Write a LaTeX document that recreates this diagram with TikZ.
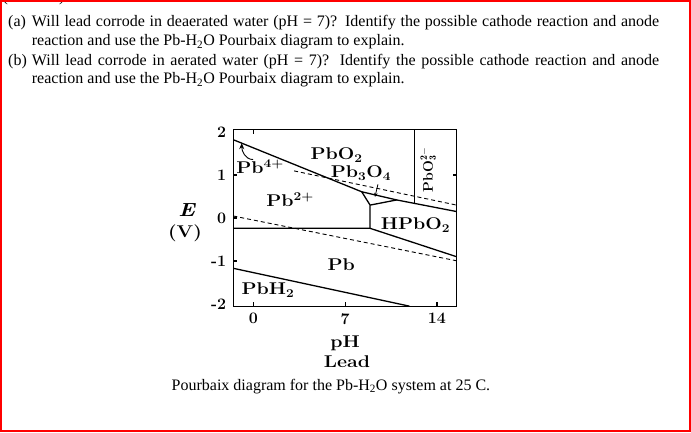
\documentclass[tikz,border=0pt]{standalone}
\usepackage{fontspec}
\newfontfamily\timesfont{Liberation Serif}
\usetikzlibrary{arrows.meta,positioning}
\newcommand\wide[1]{\scalebox{1.15}[1]{#1}}
\newcommand\qitem[2]{\makebox[23.7pt][l]{\strut#1}\parbox[t]{627.3pt}{\strut#2}}
\tikzset{
	region/.style={font=\fontsize{17}{17}\selectfont\bfseries, inner sep=0pt},
	ticklbl/.style={font=\fontsize{16}{16}\selectfont\bfseries, inner sep=0pt},
	question/.style={font=\fontsize{16}{18.6}\selectfont\timesfont, inner sep=0pt, anchor=north west},
	phase/.style={line width=1.3pt},
	water/.style={line width=0.9pt, dash pattern=on 4pt off 3pt},
}

\begin{document}
\begin{tikzpicture}[x=1pt, y=1pt]
		%%%%% START %%%%%
		\useasboundingbox (0,0) rectangle (691,432);
		\clip (0,0) rectangle (691,432);
		
		\node[font=\fontsize{16}{18}\selectfont\timesfont, inner sep=0pt, anchor=base west] (marks) at (2.5,430.5) {(5 marks)};
		
		\node[question] (qa) at (8,418.3) {\qitem{(a)}{Will lead corrode in deaerated water (pH = 7)? Identify the possible cathode reaction and anode\linebreak reaction and use the Pb-H\textsubscript{2}O Pourbaix diagram to explain.}};
		\node[question] (qb) at (8,380) {\qitem{(b)}{Will lead corrode in aerated water (pH = 7)? Identify the possible cathode reaction and anode\linebreak reaction and use the Pb-H\textsubscript{2}O Pourbaix diagram to explain.}};
		
		\begin{scope}[shift={(253.5pt,214pt)}, x=13.1pt, y=43pt]
		% frame and ticks
		\draw[phase] (-1.54,-2.05) rectangle (15.5,2.05);
		\foreach \e in {-1,0,1}
		\draw[phase] (-1.54,\e) -- (-1.24,\e);
		\draw[phase] (15.5,1) -- (15.2,1);
		\foreach \p in {0,7,14}
		\draw[phase] (\p,-2.05) -- (\p,-1.95);
		\draw[phase] (0,2.05) -- (0,1.95);
		
		\foreach \e/\t in {2/2,1/1,0/0,-1/-1,-2/-2}
		\node[ticklbl, anchor=east] (e\t) at ([xshift=-7pt]-1.54,\e) {\t};
		\foreach \p in {0,7,14}
		\node[ticklbl, anchor=north] (ph\p) at ([yshift=-7pt]\p,-2.05) {\p};
		
		% phase boundaries
		\coordinate (s0) at (-1.54,1.82);
		\coordinate (a) at (8.26,0.61);
		\coordinate (b) at (8.9,0.30);
		\coordinate (bv) at (8.9,-0.24);
		\coordinate (c) at (10.93,0.42);
		\coordinate (v) at (12.3,0.34);
		\draw[phase] (s0) -- (a) -- (b) -- (bv);
		\draw[phase] (a) -- (c) -- (15.5,0.15);
		\draw[phase] (b) -- (c);
		\draw[phase] (-1.54,-0.24) -- (bv) -- (15.5,-0.90);
		\draw[phase] (12.3,2.05) -- (v);
		\draw[phase] (-1.54,-1.17) -- (11.9,-2.05);
		
		% water lines
		\draw[water] (3.1,1.095) -- (15.5,0.30);
		\draw[water] (-1.54,0.046) -- (15.5,-0.995);
		
		% regions
		\node[region] (pbo2) at (6.35,1.465) {\wide{PbO\textsubscript{2}}};
		\node[region] (pb3o4) at (8.2,1.05) {\wide{Pb\textsubscript{3}O\textsubscript{4}}};
		\node[region] (pb4) at (0.5,1.19) {\wide{Pb\textsuperscript{4+}}};
		\node[region] (pb2) at (2.79,0.42) {\wide{Pb\textsuperscript{2+}}};
		\node[region] (hpbo2) at (12.37,-0.163) {\wide{HPbO\textsubscript{2}}};
		\node[region, font=\fontsize{14}{14}\selectfont\bfseries, rotate=90] (pbo3) at (13.34,1.12) {PbO$_{\mathbf{3}}^{\mathbf{2-}}$};
		\node[region] (pb) at (6.7,-1.09) {\wide{Pb}};
		\node[region] (pbh2) at (1.1,-1.67) {\wide{PbH\textsubscript{2}}};
		
		\coordinate (tri) at (9.27,0.49);
		\draw[line width=0.9pt, -{Stealth[length=6pt,width=5pt]}] ([xshift=-7pt]pb4.north) to[out=180,in=-90] (-0.9,1.74);
		\draw[line width=0.8pt, -{Stealth[length=4pt,width=3.5pt]}] ([xshift=17pt,yshift=-4pt]pb3o4.south) -- (tri);
		
		% axis titles
		\node[region, font=\fontsize{19}{19}\selectfont\bfseries] (etitle) at (-5.1,0.186) {\wide{\itshape E}};
		\node[region] (volt) at (-5.23,-0.356) {\wide{(V)}};
		\node[region] (phtitle) at (7.0,-2.91) {\wide{pH}};
		\node[region] (lead) at (7.13,-3.34) {\wide{Lead}};
		\end{scope}
		
		\node[font=\fontsize{16}{18}\selectfont\timesfont, inner sep=0pt, anchor=base west] (caption) at (171.5,42) {Pourbaix diagram for the Pb-H\textsubscript{2}O system at 25 C.};
		
		\draw[red, line width=2.4pt] (1.2,1.2) rectangle (689.8,430.8);
		%%%%% END %%%%%
\end{tikzpicture}
\end{document}
